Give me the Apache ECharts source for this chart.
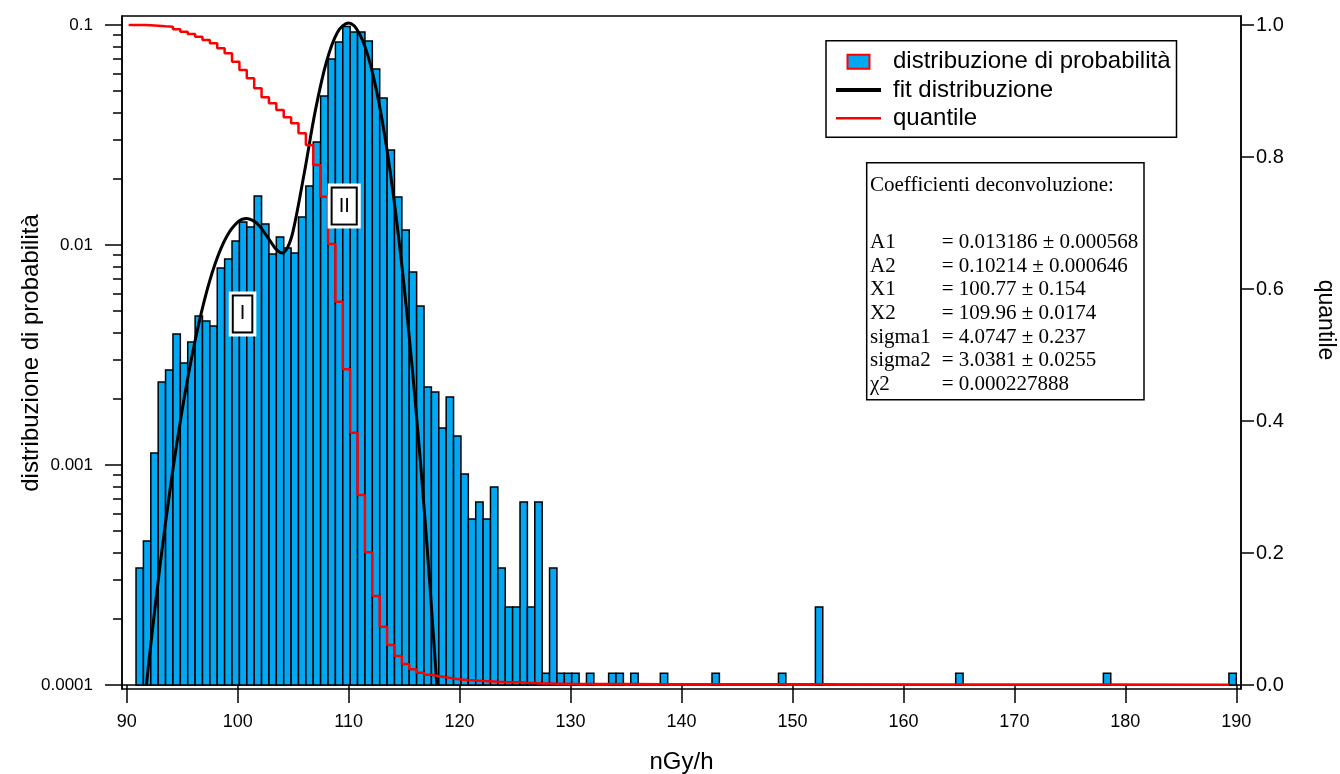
<!DOCTYPE html>
<html><head><meta charset="utf-8">
<script src="https://cdn.jsdelivr.net/npm/echarts@6/dist/echarts.min.js"></script>
<style>html,body{margin:0;padding:0;background:#fff;}#c{width:1340px;height:774px;}</style>
</head><body><div id="c"></div>
<script>
// ---------- data ----------
const binStart = 90.84;      // left edge of first histogram bin (nGy/h)
const binWidth = 0.6655;     // bin width (nGy/h)
const probability = [
  0.00034, 0.000451, 0.001134, 0.002384, 0.002704, 0.003939, 0.002908, 0.003623, 0.004757, 0.004513,
  0.004283, 0.007859, 0.008637, 0.010428, 0.01272, 0.01207, 0.0167, 0.01246, 0.0091, 0.01087,
  0.00969, 0.0092, 0.01341, 0.01854, 0.02938, 0.04757, 0.0701, 0.0837, 0.0985, 0.0929,
  0.0929, 0.0846, 0.0631, 0.0466, 0.02703, 0.01652, 0.0117, 0.00754, 0.00528, 0.002262,
  0.002147, 0.001473, 0.002037, 0.001354, 0.00091, 0.000568, 0.000679, 0.000568, 0.000794, 0.00034,
  0.000226, 0.000226, 0.000679, 0.000226, 0.000679, 0.000113, 0.00034, 0.000113, 0.000113, 0.000113,
  0, 0.000113, 0, 0, 0.000113, 0.000113, 0, 0.000113, 0, 0,
  0, 0.000113, 0, 0, 0, 0, 0, 0, 0.000113, 0,
  0, 0, 0, 0, 0, 0, 0, 0.000113, 0, 0,
  0, 0, 0.000226, 0, 0, 0, 0, 0, 0, 0,
  0, 0, 0, 0, 0, 0, 0, 0, 0, 0,
  0, 0.000113, 0, 0, 0, 0, 0, 0, 0, 0,
  0, 0, 0, 0, 0, 0, 0, 0, 0, 0,
  0, 0.000113, 0, 0, 0, 0, 0, 0, 0, 0,
  0, 0, 0, 0, 0, 0, 0, 0, 0.000113
];
const fitX = [91.78, 92, 93, 94, 95, 96, 97, 98, 99, 100, 100.8, 101.5, 102, 103, 103.5, 104, 104.5, 105, 106, 107, 108, 109, 110, 111, 112, 113, 114, 115, 116, 117, 117.95];
const fitY = [0.0001, 0.000128, 0.000348, 0.000835, 0.00178, 0.00335, 0.0056, 0.0083, 0.0109, 0.0127, 0.0132, 0.0128, 0.01215, 0.0103, 0.00952, 0.0092, 0.00975, 0.0116, 0.0212, 0.0408, 0.0679, 0.0927, 0.1022, 0.0909, 0.0651, 0.0375, 0.0174, 0.0065, 0.00196, 0.000476, 0.0001];
const quantileBins = [0,1,2,3,4,5,6,7,8,9,10,11,12,13,14,15,16,17,18,19,20,21,22,23,24,25,26,27,28,29,30,31,32,33,34,35,36,37,38,39,40,41,42,43,44,45,46,47,48,49,50,51,52,53,54,55,56,57,58,59,60,62,65,66,68,72,79,88,93,112,132,149];
const quantileValues = [1.0,1.0,0.9995,0.999,0.998,0.9974,0.9935,0.9898,0.9864,0.9823,0.9773,0.9723,0.9647,0.9571,0.9444,0.9318,0.9192,0.9041,0.8905,0.8814,0.8712,0.8602,0.8511,0.8359,0.8182,0.7879,0.7398,0.6682,0.5808,0.4783,0.3823,0.2879,0.2011,0.1348,0.0883,0.0606,0.0439,0.0318,0.0238,0.0186,0.0155,0.0132,0.0116,0.0097,0.0083,0.0074,0.0068,0.0061,0.0055,0.0048,0.0044,0.0042,0.0040,0.0033,0.0031,0.0024,0.0023,0.0020,0.0019,0.0018,0.0017,0.0016,0.0015,0.0014,0.0013,0.0012,0.0011,0.0010,0.0008,0.0006,0.0005,0.0003];
const xTicks = [90,100,110,120,130,140,150,160,170,180,190];
const yTicks = [0.0001, 0.001, 0.01, 0.1];
const yTickLabels = ['0.0001','0.001','0.01','0.1'];
const yMinorTicks = [2e-4,3e-4,4e-4,5e-4,6e-4,7e-4,8e-4,9e-4,2e-3,3e-3,4e-3,5e-3,6e-3,7e-3,8e-3,9e-3,0.02,0.03,0.04,0.05,0.06,0.07,0.08,0.09];
const qTicks = [0, 0.2, 0.4, 0.6, 0.8, 1.0];
const annotations = [['I', 100.44, 0.00486], ['II', 109.6, 0.01503]];
const coefTitle = 'Coefficienti deconvoluzione:';
const coefNames = ['A1','A2','X1','X2','sigma1','sigma2','χ2'];
const coefValues = ['= 0.013186 ± 0.000568','= 0.10214 ± 0.000646','= 100.77 ± 0.154','= 109.96 ± 0.0174','= 4.0747 ± 0.237','= 3.0381 ± 0.0255','= 0.000227888'];

// ---------- chart ----------
const X_MIN = 89.576, X_MAX = 190.424;
const Y_MIN = Math.pow(10, -4.0182), Y_MAX = Math.pow(10, -0.9591);
const Q_MIN = -0.00606, Q_MAX = 1.01364;
const BASE = 0.0001;
const SANS = 'Liberation Sans, Arial, sans-serif';
const SERIF = 'Liberation Serif, Times New Roman, serif';
const BAR = '#00a8f3';

const chart = echarts.init(document.getElementById('c'), null, {renderer: 'canvas'});

const histData = probability.map((v, i) => [binStart + i * binWidth, v]).filter(d => d[1] > 0);
const fitData = fitX.map((x, i) => [x, fitY[i]]);
const qData = quantileBins.map((k, i) => [binStart + (k - 1) * binWidth, quantileValues[i]]);

const graphic = [];
const boxL = 866.7, boxT = 162.7, boxW = 277.3, boxH = 237;
graphic.push({type: 'rect', shape: {x: boxL, y: boxT, width: boxW, height: boxH}, style: {fill: '#fff', stroke: '#000', lineWidth: 1.5}, z: 10});
graphic.push({type: 'text', x: 870, y: 185, style: {text: coefTitle, font: '21px ' + SERIF, fill: '#000', verticalAlign: 'middle'}, z: 11});
coefNames.forEach((n, i) => {
  const y = 242.7 + i * 23.6;
  graphic.push({type: 'text', x: 870, y: y, style: {text: n, font: '21px ' + SERIF, fill: '#000', verticalAlign: 'middle'}, z: 11});
  graphic.push({type: 'text', x: 941.7, y: y, style: {text: coefValues[i], font: '21px ' + SERIF, fill: '#000', verticalAlign: 'middle'}, z: 11});
});
graphic.push({type: 'text', x: 1325, y: 320, rotation: -Math.PI / 2,
  style: {text: 'quantile', font: '23px ' + SANS, fill: '#000', align: 'center', verticalAlign: 'middle'}, z: 11});
graphic.push({type: 'text', x: 31, y: 353, rotation: Math.PI / 2,
  style: {text: 'distribuzione di probabilità', font: '24px ' + SANS, fill: '#000', align: 'center', verticalAlign: 'middle'}, z: 11});

const option = {
  animation: false,
  backgroundColor: '#fff',
  grid: {left: 122, right: 99, top: 16, bottom: 85, show: true, borderColor: '#000', borderWidth: 1.5,
    containLabel: false, outerBoundsMode: 'none'},
  legend: {
    orient: 'vertical', left: 826, top: 40.7,
    backgroundColor: '#fff', borderColor: '#000', borderWidth: 1.5, padding: [7, 6, 5, 10],
    itemWidth: 45, itemHeight: 14, itemGap: 0.3, selectedMode: false,
    textStyle: {fontFamily: SANS, fontSize: 24, color: '#000', lineHeight: 28, padding: [0, 0, 0, 7]},
    data: [
      {name: 'distribuzione di probabilità', icon: 'path://M0,0h22v14h-22z', itemStyle: {color: BAR, borderColor: '#ff0000', borderWidth: 2}},
      {name: 'fit distribuzione', icon: 'path://M0,0h45v4h-45z', itemStyle: {color: '#000', borderWidth: 0}},
      {name: 'quantile', icon: 'path://M0,0h45v2.5h-45z', itemStyle: {color: '#ff0000', borderWidth: 0}}
    ]
  },
  xAxis: [{
    type: 'value', min: X_MIN, max: X_MAX, position: 'bottom',
    name: 'nGy/h', nameLocation: 'middle', nameGap: 61,
    nameTextStyle: {fontFamily: SANS, fontSize: 24, color: '#000'},
    axisLine: {show: true, lineStyle: {color: '#000', width: 1.5}},
    axisTick: {show: true, customValues: xTicks, length: 18, lineStyle: {color: '#000', width: 1.5}},
    axisLabel: {customValues: xTicks, margin: 24, fontFamily: SANS, fontSize: 18, color: '#000'},
    splitLine: {show: false}
  }],
  yAxis: [
    {type: 'log', logBase: 10, min: Y_MIN, max: Y_MAX, show: false, splitLine: {show: false}},
    {
      type: 'value', min: Math.log10(Y_MIN), max: Math.log10(Y_MAX), position: 'left',
      axisLine: {show: true, lineStyle: {color: '#000', width: 1.5}},
      axisTick: {show: true, customValues: yTicks.map(Math.log10), length: 17, lineStyle: {color: '#000', width: 1.5}},
      axisLabel: {customValues: yTicks.map(Math.log10), margin: 29, fontFamily: SANS, fontSize: 17, color: '#000',
        formatter: v => { const i = yTicks.findIndex(t => Math.abs(Math.log10(t) - v) < 1e-6); return i >= 0 ? yTickLabels[i] : ''; }},
      splitLine: {show: false}
    },
    {
      type: 'value', min: Math.log10(Y_MIN), max: Math.log10(Y_MAX), position: 'left',
      axisLine: {show: false},
      axisTick: {show: true, customValues: yMinorTicks.map(Math.log10), length: 9, lineStyle: {color: '#000', width: 1.5}},
      axisLabel: {show: false}, splitLine: {show: false}
    },
    {
      type: 'value', min: Q_MIN, max: Q_MAX, position: 'right',
      axisLine: {show: true, lineStyle: {color: '#000', width: 1.5}},
      axisTick: {show: true, customValues: qTicks, length: 13, lineStyle: {color: '#000', width: 1.5}},
      axisLabel: {customValues: qTicks, margin: 15, fontFamily: SANS, fontSize: 20, color: '#000', formatter: v => v.toFixed(1)},
      splitLine: {show: false}
    }
  ],
  graphic: graphic,
  series: [
    {
      name: 'distribuzione di probabilità', type: 'custom', xAxisIndex: 0, yAxisIndex: 0,
      itemStyle: {color: BAR}, clip: true, z: 2,
      encode: {x: 0, y: 1},
      data: histData,
      renderItem: (params, api) => {
        const x0 = api.value(0), v = api.value(1);
        const p0 = api.coord([x0, v]);
        const p1 = api.coord([x0 + binWidth, BASE]);
        return {type: 'rect', shape: {x: p0[0], y: p0[1], width: p1[0] - p0[0], height: p1[1] - p0[1]},
          style: {fill: BAR, stroke: '#000', lineWidth: 1.5}};
      }
    },
    {
      name: 'fit distribuzione', type: 'line', xAxisIndex: 0, yAxisIndex: 0, data: fitData,
      smooth: 0.35, showSymbol: false, symbol: 'none', z: 4,
      lineStyle: {color: '#000', width: 3}, itemStyle: {color: '#000'}
    },
    {
      name: 'quantile', type: 'line', xAxisIndex: 0, yAxisIndex: 3, data: qData, step: 'end',
      showSymbol: false, symbol: 'none', z: 5,
      lineStyle: {color: '#ff0000', width: 2.5}, itemStyle: {color: '#ff0000'}
    },
    {
      name: 'labels', type: 'custom', xAxisIndex: 0, yAxisIndex: 0, z: 6,
      encode: {x: 1, y: 2},
      data: annotations,
      renderItem: (params, api) => {
        const txt = annotations[params.dataIndex][0];
        const p = api.coord([api.value(1), api.value(2)]);
        const base = {text: txt, font: '20px ' + SANS, fill: '#000', align: 'center', verticalAlign: 'middle', padding: [8, 6, 7, 6], backgroundColor: '#fff'};
        return {type: 'group', children: [
          {type: 'text', x: p[0], y: p[1], style: Object.assign({}, base, {borderColor: '#fff', borderWidth: 5})},
          {type: 'text', x: p[0], y: p[1], style: Object.assign({}, base, {borderColor: '#000', borderWidth: 2})}
        ]};
      }
    }
  ]
};
chart.setOption(option);
</script>
</body></html>
